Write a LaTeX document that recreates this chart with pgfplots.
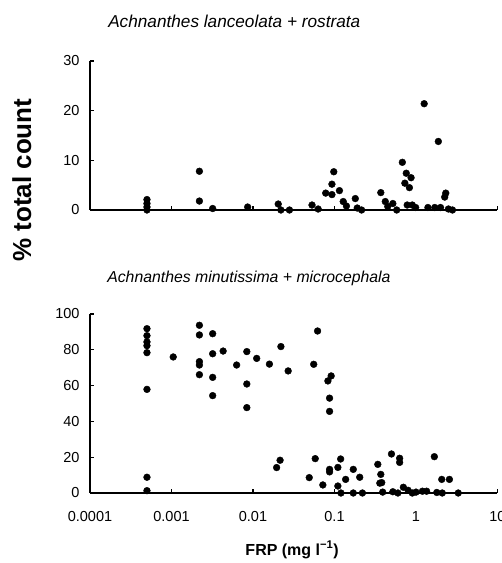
\documentclass[border=0pt]{standalone}
\usepackage{fontspec}
\setmainfont{Liberation Sans}
\usepackage{pgfplots}
\pgfplotsset{compat=1.18}

\pgfplotsset{
  diatom/.style={
    scale only axis,
    width=407.5pt,
    xmin=1e-4, xmax=10,
    ymin=0,
    axis lines*=left,
    axis line style={line width=2pt},
    tick align=inside,
    major tick length=4pt,
    tick style={line width=1.3pt, black},
    xminorticks=false,
    xtick={1e-4,1e-3,1e-2,1e-1,1,10},
    clip=false,
    /pgf/number format/assume math mode=true,
    tick label style={font=\fontsize{14.5}{14.5}\selectfont},
    yticklabel style={xshift=-7pt},
    title style={anchor=center},
  },
  dots/.style={only marks, mark=*, mark size=3.4pt, black},
}

\begin{document}
\begin{tikzpicture}
\useasboundingbox (0,0) rectangle (502pt,563pt);

% upper panel
\begin{semilogxaxis}[diatom,
    at={(90pt,353pt)}, anchor=south west,
    height=149pt, ymax=30, ytick={0,10,20,30},
    xticklabels={},
    title={Achnanthes lanceolata + rostrata},
    title style={font=\fontsize{17.2}{17.2}\selectfont\itshape, at={(0.354,1.228)}},
    ylabel={\% total count},
    ylabel style={font=\fontsize{26}{26}\selectfont\bfseries, at={(axis description cs:-0.167,0.20)}, anchor=center, rotate=0},
  ]
  \addplot[dots] coordinates {
    (0.0005,2.1) (0.0005,1.3) (0.0005,0.6) (0.0005,0)
    (0.0022,7.8) (0.0022,1.8)
    (0.0032,0.3) (0.0086,0.6)
    (0.0204,1.2) (0.022,0) (0.028,0)
    (0.053,1.0) (0.063,0.2)
    (0.078,3.4) (0.093,5.2) (0.098,7.7) (0.093,3.1) (0.115,3.9)
    (0.128,1.7) (0.14,0.8) (0.18,2.3) (0.19,0.4) (0.215,0)
    (0.37,3.5) (0.42,1.7) (0.45,0.7) (0.52,1.3) (0.58,0)
    (0.68,9.6) (0.76,7.4) (0.87,6.5) (0.73,5.4) (0.83,4.5)
    (0.78,1.0) (0.9,1.0) (0.99,0.5)
    (1.26,21.4) (1.88,13.8) (2.32,3.4) (2.25,2.6) (2.0,0.5)
    (2.5,0.2) (2.8,0) (1.7,0.5) (1.4,0.5)
  };
\end{semilogxaxis}

% lower panel
\begin{semilogxaxis}[diatom,
    at={(90pt,70pt)}, anchor=south west,
    height=179pt, ymax=100, ytick={0,20,...,100},
    xticklabels={0.0001,0.001,0.01,0.1,1,10},
    xticklabel style={yshift=-15pt},
    title={Achnanthes minutissima + microcephala},
    title style={font=\fontsize{15.8}{15.8}\selectfont\itshape, at={(0.39,1.168)}},
    xlabel={FRP (mg l\textsuperscript{−1})},
    xlabel style={font=\fontsize{16}{16}\selectfont\bfseries, at={(axis description cs:0.496,-0.318)}, anchor=center},
  ]
  \addplot[dots] coordinates {
    (0.0005,91.8) (0.0005,87.9) (0.0005,84.4) (0.0005,82.3) (0.0005,78.4)
    (0.0005,57.9) (0.0005,8.8) (0.0005,1.3)
    (0.00105,76)
    (0.0022,93.7) (0.0022,88.3) (0.0022,73.4) (0.0022,71.5) (0.0022,66.1)
    (0.0032,89) (0.0032,77.8) (0.0032,64.6) (0.0032,54.4)
    (0.0043,79.3) (0.0063,71.5)
    (0.0084,79) (0.0084,60.9) (0.0084,47.7)
    (0.0111,75.2) (0.0159,72) (0.022,81.8) (0.027,68.2)
    (0.0195,14.2) (0.0215,18.3)
    (0.0556,71.9) (0.062,90.5) (0.058,19.2) (0.049,8.6)
    (0.083,62.6) (0.091,65.4) (0.087,53) (0.087,45.6) (0.087,13.2) (0.087,11.8)
    (0.11,14.3) (0.119,19) (0.17,13.2) (0.137,7.6) (0.204,8.8)
    (0.072,4.5) (0.11,3.9) (0.12,0) (0.17,0) (0.22,0)
    (0.34,16) (0.37,10.4) (0.38,5.8) (0.36,5.5) (0.39,0.5)
    (0.5,21.8) (0.63,19.4) (0.63,17.1)
    (0.52,0.7) (0.6,0) (0.70,3.2) (0.8,1.5) (0.9,0) (1.0,0.5) (1.2,1) (1.35,1)
    (1.68,20.3) (2.07,7.6) (2.57,7.6) (1.8,0.3) (2.1,0) (3.3,0)
  };
\end{semilogxaxis}
\end{tikzpicture}
\end{document}
